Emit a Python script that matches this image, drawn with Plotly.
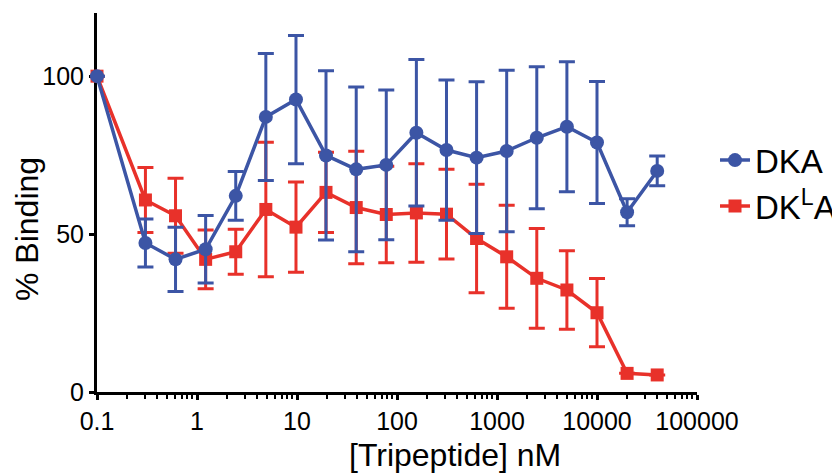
import plotly.graph_objects as go

conc_nM = [0.1, 0.305, 0.61, 1.22, 2.44, 4.88, 9.77, 19.5, 39.1, 78.1, 156.25,
           312.5, 625, 1250, 2500, 5000, 10000, 20000, 40000]

dka_mean = [100, 47.2, 42.0, 45.2, 62.1, 87.1, 92.6, 74.9, 70.5, 71.9, 82.1,
            76.6, 74.2, 76.3, 80.5, 84.0, 79.0, 56.9, 70.0]
dka_err = [0, 7.6, 10.2, 10.7, 7.7, 20.1, 20.3, 26.8, 26.1, 23.7, 23.2,
           22.2, 24.0, 25.6, 22.5, 20.6, 19.3, 4.3, 4.7]

dkla_mean = [100, 60.8, 55.8, 42.0, 44.4, 57.8, 52.2, 63.2, 58.4, 56.2, 56.7,
             56.3, 48.6, 42.8, 36.0, 32.3, 25.1, 5.9, 5.4]
dkla_err = [0, 10.3, 11.9, 9.3, 7.1, 21.3, 14.3, 12.7, 17.8, 15.3, 15.6,
            14.2, 17.2, 16.3, 15.8, 12.4, 10.8, 0, 0]

x_tickvals = [0.1, 1, 10, 100, 1000, 10000, 100000]
x_ticktext = ["0.1", "1", "10", "100", "1000", "10000", "100000"]
y_tickvals = [0, 50, 100]

x_title = "[Tripeptide] nM"
y_title = "% Binding"

BLUE = "#3C55A5"
RED = "#E8312A"
FONT = "Liberation Sans, Arial, sans-serif"

fig = go.Figure()
fig.add_trace(go.Scatter(
    x=conc_nM, y=dkla_mean, name="DK<sup>L</sup>A", mode="lines+markers",
    line=dict(color=RED, width=3.5),
    marker=dict(symbol="square", size=13, color=RED),
    error_y=dict(type="data", array=dkla_err, visible=True, color=RED,
                 thickness=3, width=8),
    cliponaxis=False,
))
fig.add_trace(go.Scatter(
    x=conc_nM, y=dka_mean, name="DKA", mode="lines+markers",
    line=dict(color=BLUE, width=3.5),
    marker=dict(symbol="circle", size=14, color=BLUE),
    error_y=dict(type="data", array=dka_err, visible=True, color=BLUE,
                 thickness=3, width=8),
    cliponaxis=False,
))

# page body has an 8px margin, so the figure is 8px smaller and offset
fig.update_layout(
    width=832, height=465,
    margin=dict(l=89, r=143, t=5, b=81, autoexpand=False),
    paper_bgcolor="white", plot_bgcolor="white",
    font=dict(family=FONT, color="black", size=25),
    showlegend=True,
    legend=dict(x=1.03, y=0.551, xanchor="left", yanchor="middle",
                traceorder="reversed", font=dict(size=33),
                itemwidth=30, tracegroupgap=0, bgcolor="rgba(0,0,0,0)"),
    xaxis=dict(
        type="log", range=[-1, 5], automargin=False,
        tickvals=x_tickvals, ticktext=x_ticktext,
        showgrid=False, zeroline=False,
        showline=True, linecolor="black", linewidth=3,
        ticks="outside", ticklen=5, tickwidth=3, tickcolor="black",
        tickfont=dict(size=25),
        minor=dict(ticks="outside", ticklen=4, tickwidth=2, tickcolor="black",
                   dtick="D1", showgrid=False),
        layer="below traces",
    ),
    yaxis=dict(
        range=[0, 120], automargin=False,
        tickvals=y_tickvals,
        showgrid=False, zeroline=False,
        showline=True, linecolor="black", linewidth=3,
        ticks="outside", ticklen=5, tickwidth=3, tickcolor="black",
        tickfont=dict(size=25),
        layer="below traces",
    ),
    annotations=[
        dict(text=x_title, xref="paper", yref="paper", x=0.597, y=-0.1662,
             xanchor="center", yanchor="middle", showarrow=False,
             font=dict(size=32)),
        dict(text=y_title, xref="paper", yref="paper", x=-0.1158, y=0.4288,
             xanchor="center", yanchor="middle", showarrow=False,
             textangle=-90, font=dict(size=32)),
    ],
)

fig.write_html("out.html")
